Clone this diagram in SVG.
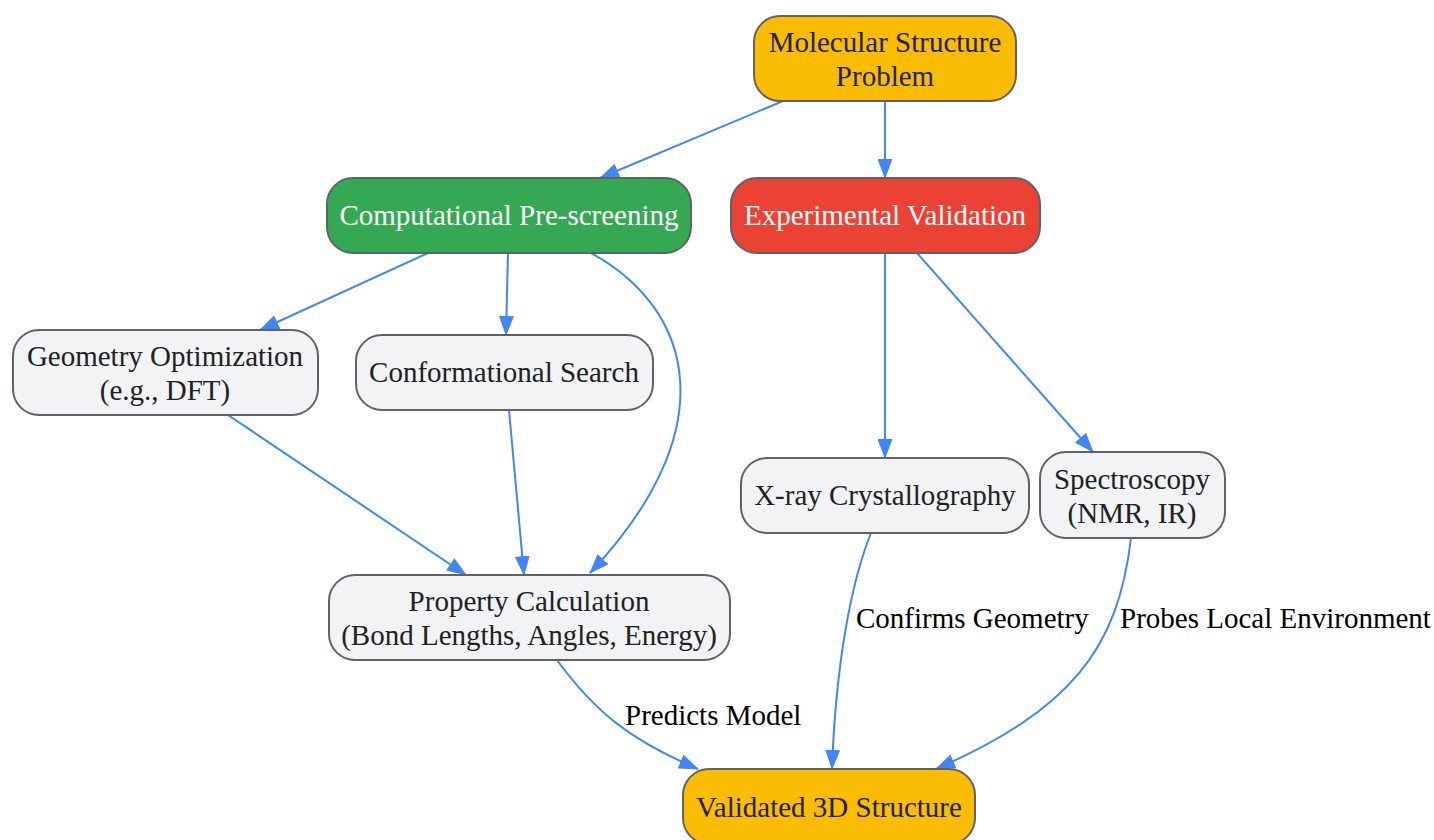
<svg xmlns="http://www.w3.org/2000/svg" width="1434" height="840" viewBox="0 0 1434 840">
<style>
.node rect{stroke:#5f6368;stroke-width:2}
.gray rect{fill:#f1f3f4}
.yellow rect{fill:#fbbc04}
.t{font-family:"Liberation Serif","Times New Roman",serif;font-size:29px;fill:#202124;text-anchor:middle}
.w{fill:#ffffff}
.edge{fill:none;stroke:#4285f4;stroke-width:2;marker-end:url(#ah)}
.lbl{font-family:"Liberation Serif","Times New Roman",serif;font-size:29px;fill:#000000}
</style>
<defs>
<marker id="ah" viewBox="0 0 20 15" refX="19" refY="7.5" markerWidth="20" markerHeight="15" markerUnits="userSpaceOnUse" orient="auto">
<path d="M0,0 L20,7.5 L0,15 z" fill="#4285f4"/>
</marker>
</defs>
<rect width="1434" height="840" fill="#ffffff"/>
<g id="connectors">
<path class="edge" d="M783,101 L600,178"/>
<path class="edge" d="M885,101 L885,178"/>
<path class="edge" d="M428,253 L260,330"/>
<path class="edge" d="M508,253 L506,335"/>
<path class="edge" d="M591,253 C695,310 725,430 590,573"/>
<path class="edge" d="M885,253 L885,458"/>
<path class="edge" d="M917,253 L1093,452"/>
<path class="edge" d="M228,415 L466,575"/>
<path class="edge" d="M509,410 L524,575"/>
<path class="edge" d="M557,660 C595,712 630,740 698,769"/>
<path class="edge" d="M871,533 C852,580 836,660 832,769"/>
<path class="edge" d="M1131,538 C1118,650 1070,710 936,769"/>
<text class="lbl" x="625" y="725">Predicts Model</text>
<text class="lbl" x="856" y="628">Confirms Geometry</text>
<text class="lbl" x="1120" y="628">Probes Local Environment</text>
</g>
<g id="problem" class="node yellow">
<rect x="754" y="16" width="262" height="85" rx="26"/>
<text class="t" x="885" y="52">Molecular Structure</text>
<text class="t" x="885" y="86">Problem</text>
</g>
<g id="comp" class="node">
<rect x="327" y="178" width="364" height="75" rx="26" fill="#34a853"/>
<text class="t w" x="509" y="225">Computational Pre-screening</text>
</g>
<g id="exp" class="node">
<rect x="731" y="178" width="309" height="75" rx="26" fill="#ea4335"/>
<text class="t w" x="885" y="225">Experimental Validation</text>
</g>
<g id="geom" class="node gray">
<rect x="13" y="330" width="305" height="85" rx="26"/>
<text class="t" x="165" y="366">Geometry Optimization</text>
<text class="t" x="165" y="400">(e.g., DFT)</text>
</g>
<g id="conf" class="node gray">
<rect x="356" y="335" width="297" height="75" rx="26"/>
<text class="t" x="504" y="382">Conformational Search</text>
</g>
<g id="xray" class="node gray">
<rect x="741" y="458" width="288" height="75" rx="26"/>
<text class="t" x="885" y="505">X-ray Crystallography</text>
</g>
<g id="spec" class="node gray">
<rect x="1040" y="452" width="185" height="86" rx="26"/>
<text class="t" x="1132" y="489">Spectroscopy</text>
<text class="t" x="1132" y="523">(NMR, IR)</text>
</g>
<g id="prop" class="node gray">
<rect x="329" y="575" width="401" height="85" rx="26"/>
<text class="t" x="529" y="611">Property Calculation</text>
<text class="t" x="529" y="645">(Bond Lengths, Angles, Energy)</text>
</g>
<g id="valid" class="node yellow">
<rect x="683" y="769" width="292" height="75" rx="26"/>
<text class="t" x="829" y="817">Validated 3D Structure</text>
</g>
</svg>
